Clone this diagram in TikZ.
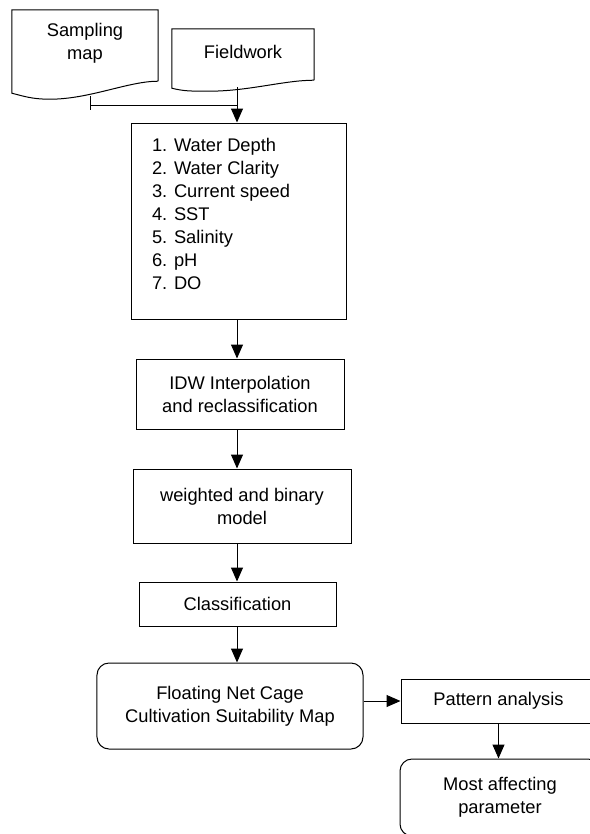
\documentclass[tikz,border=0pt]{standalone}
\usepackage{fontspec}
\setmainfont{Liberation Sans}
\usetikzlibrary{arrows.meta,calc,positioning}

\begin{document}
\begin{tikzpicture}[x=1bp, y=-1bp,
    font=\fontsize{18.3bp}{23bp}\selectfont,
    line/.style={line width=1bp, black},
    arr/.style={line, -{Triangle[length=14bp,width=12bp]}},
    box/.style={draw, line width=1bp, inner sep=0pt, align=center},
    doc/.style={inner sep=0pt, align=center}]
    % page frame, the right and bottom shapes run off it
    \useasboundingbox (0,0) rectangle (590,834);
    \clip (0,0) rectangle (590,834);

    % source documents (wavy bottom)
    \node[doc, minimum width=146bp, minimum height=66bp] (samp) at (85,43) {Sampling\\map};
    \node[doc, minimum width=142bp, minimum height=46bp] (field) at (243,52) {Fieldwork};
    \foreach \d/\lo/\tr in {samp/17/23, field/13/16} {
        \draw[line] ($(\d.south east)+(0,5)$) -- (\d.north east) -- (\d.north west)
            -- ($(\d.south west)+(0,\lo)$)
            .. controls +(12,3) and +(-18,0) .. ($(\d.south west)!0.26!(\d.south east)+(0,\tr)$)
            .. controls +(40,0) and +(-30,0) .. ($(\d.south east)+(0,5)$);
    }

    % parameter list
    \node[box, minimum width=215bp, minimum height=196bp, inner xsep=21bp] (params) at (238.5,221)
        {\parbox[c][196bp][t]{173bp}{\raggedright\vspace*{15bp}1. Water Depth\\2. Water Clarity\\3. Current speed\\4. SST\\5. Salinity\\6. pH\\7. DO}};

    % processing chain
    \node[box, minimum width=208bp, minimum height=70bp] (idw) at (240,394) {IDW Interpolation\\and reclassification};
    \node[box, minimum width=218bp, minimum height=74bp] (weight) at (242,506) {weighted and binary\\model};
    \node[box, minimum width=197bp, minimum height=44bp] (class) at (237.5,604) {Classification};
    \node[box, rounded corners=12bp, minimum width=266bp, minimum height=86bp] (suit) at (230,706) {Floating Net Cage\\Cultivation Suitability Map};
    \node[box, minimum width=195bp, minimum height=44bp] (pattern) at (498.5,701) {Pattern analysis};
    \node[box, rounded corners=12bp, minimum width=200bp, minimum height=77bp] (affect) at (500,797.5) {Most affecting\\parameter};

    % connectors
    \coordinate (spine) at (237,0);
    \coordinate (sampout) at ($(samp.south)+(5,20)$);
    \coordinate (tick) at ($(sampout)+(0,14)$);
    \coordinate (fieldout) at ($(spine |- field.south)+(0,12)$);
    \coordinate (merge) at ($(fieldout)+(0,18)$);
    \draw[line] (sampout) -- (tick);
    \draw[line] (sampout |- merge) -- (merge);
    \draw[arr] (fieldout) -- (spine |- params.north);
    \foreach \a/\b in {params/idw, idw/weight, weight/class, class/suit}
        \draw[arr] (spine |- \a.south) -- (spine |- \b.north);
    \draw[arr] (suit.east |- pattern.west) -- (pattern.west);
    \draw[arr] (pattern.south) -- (affect.north -| pattern.south);
\end{tikzpicture}
\end{document}
